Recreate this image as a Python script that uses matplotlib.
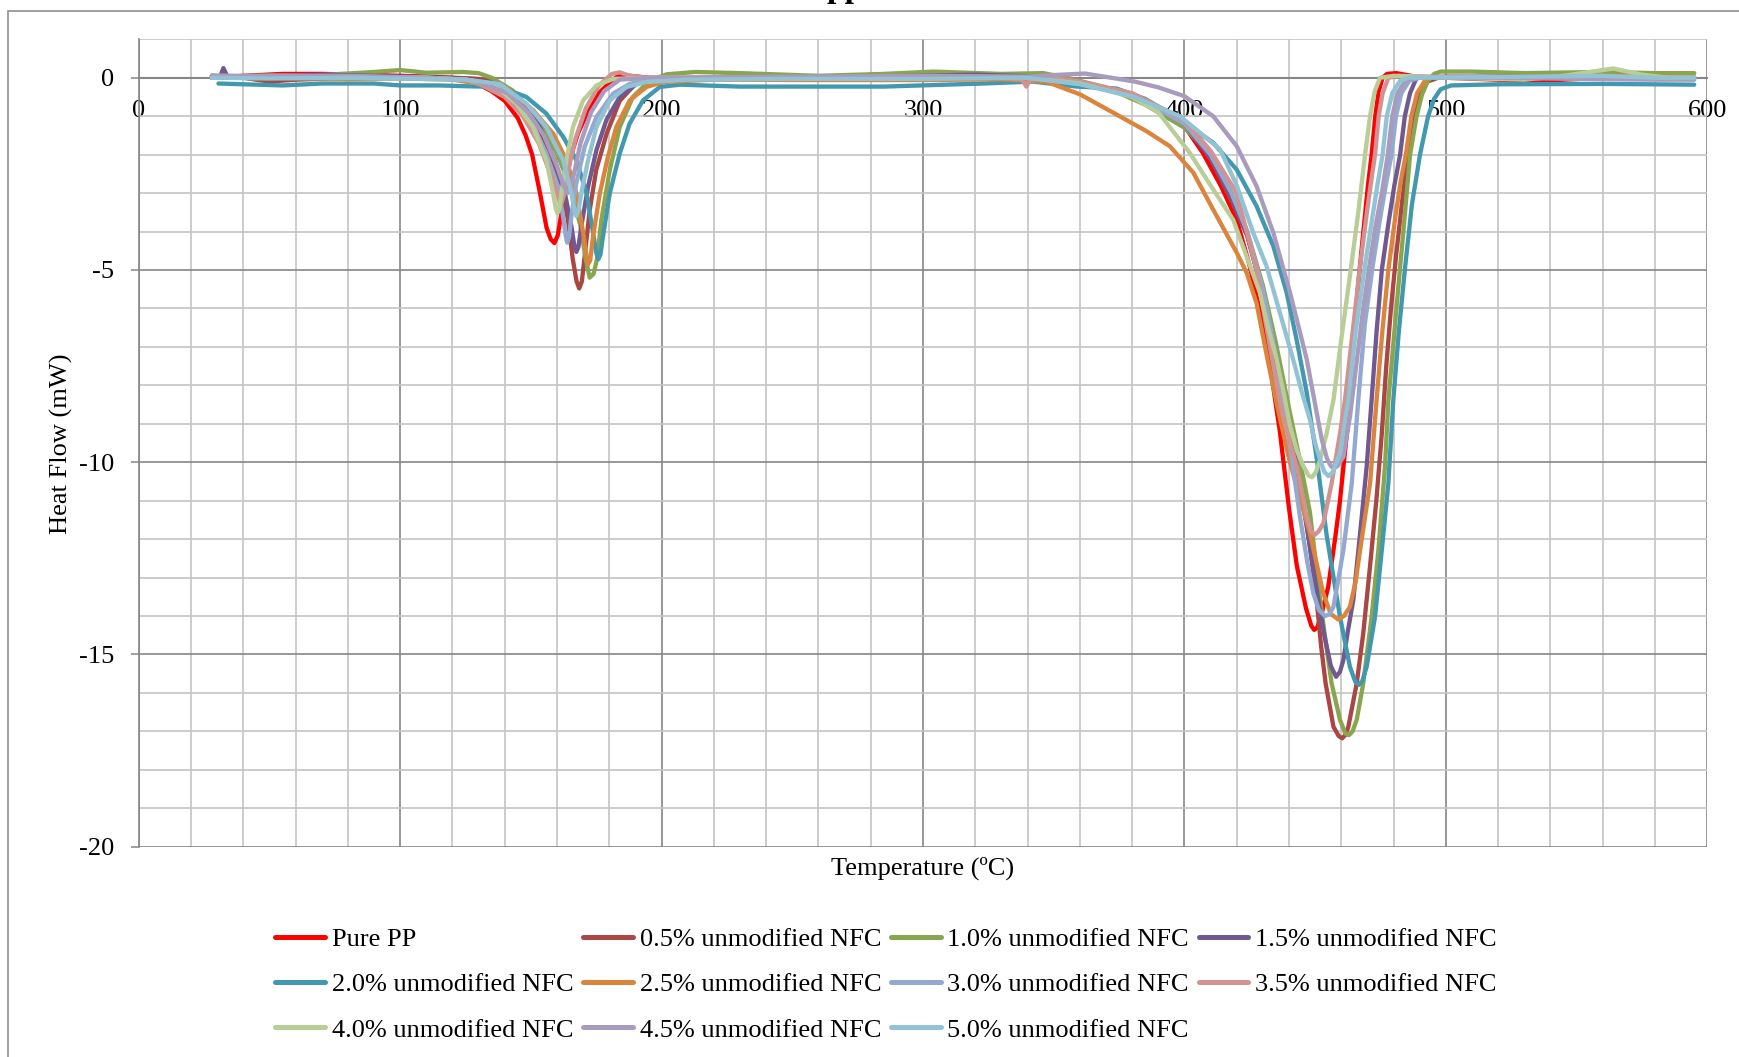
import matplotlib
matplotlib.use('Agg')
import matplotlib.pyplot as plt
from matplotlib.patches import Rectangle

plt.rcParams['font.family'] = ['Liberation Serif', 'DejaVu Serif']

# ---------------- data ----------------
series_names = ["Pure PP", "0.5% unmodified NFC", "1.0% unmodified NFC", "1.5% unmodified NFC",
                "2.0% unmodified NFC", "2.5% unmodified NFC", "3.0% unmodified NFC",
                "3.5% unmodified NFC", "4.0% unmodified NFC", "4.5% unmodified NFC",
                "5.0% unmodified NFC"]
series_colors = ["#FF0000", "#AA4643", "#89A54E", "#71588F", "#4198AF", "#DB843D",
                 "#93A9CF", "#D19392", "#B9CD96", "#A99BBD", "#91C3D5"]

t_pure = [28, 40, 55, 70, 90, 110, 120, 128, 135, 140, 145, 148, 150.5, 153.5, 156, 157.6, 159, 160.3,
          161.5, 163, 165, 168, 171, 176, 181, 184, 188, 195, 230, 270, 310, 345, 360, 380, 392, 400,
          407, 414, 420, 425, 429, 433, 436.5, 440, 443, 446.5, 448.5, 449.6, 450.8, 452.5, 455, 457.6,
          459.5, 462.2, 464.3, 466.3, 468.3, 470.2, 471.6, 473, 474.3, 475.8, 477.5, 481, 486, 490, 500,
          520, 533, 545, 560, 580, 595]
hf_pure = [0.0, 0.05, 0.1, 0.1, 0.07, 0.03, 0.0, -0.1, -0.35, -0.6, -1.05, -1.5, -2.0, -3.0, -3.9, -4.2,
           -4.3, -4.1, -3.6, -3.0, -2.1, -1.45, -1.0, -0.4, -0.07, 0.08, 0.05, 0.0, -0.03, -0.03, 0.0, 0.0,
           -0.13, -0.48, -0.82, -1.26, -1.95, -2.82, -3.7, -4.9, -6.1, -7.6, -9.2, -11.2, -12.7, -13.8,
           -14.25, -14.36, -14.3, -13.93, -13.24, -12.0, -11.0, -9.2, -7.2, -5.5, -4.1, -2.8, -2.0, -1.0,
           -0.35, 0.0, 0.1, 0.12, 0.06, 0.0, 0.0, -0.05, -0.1, -0.05, 0.0, 0.0, 0.0]

t_05 = [28, 40, 50, 60, 80, 100, 120, 128, 135.5, 143, 151, 157, 161.7, 164.2, 166, 167.5, 168.5, 169.5,
        170.5, 172.5, 175, 179, 184, 190, 197, 220, 280, 320, 350, 360, 380, 400, 410, 418, 424, 430,
        434, 438, 442, 445, 448, 450.6, 452.3, 454, 457, 459, 460.3, 461.5, 462.7, 465.9, 468.4, 471,
        473.4, 475.5, 477.2, 479, 481, 483.3, 485.5, 487.8, 490, 493, 497, 530, 560, 595]
hf_05 = [0.05, 0.0, -0.1, -0.05, 0.0, 0.0, 0.0, -0.02, -0.07, -0.4, -1.0, -1.9, -2.8, -3.7, -4.7, -5.3,
         -5.48, -5.3, -4.7, -3.45, -2.4, -1.45, -0.6, -0.16, -0.03, 0.0, 0.0, 0.05, 0.0, -0.1, -0.45,
         -1.2, -2.1, -3.2, -4.1, -5.6, -7.0, -8.4, -9.8, -10.8, -12.2, -13.6, -14.8, -15.75, -16.88,
         -17.12, -17.18, -17.1, -16.88, -15.75, -14.45, -12.7, -11.0, -9.25, -7.5, -6.0, -4.6, -3.2,
         -2.0, -1.0, -0.4, -0.1, 0.0, 0.0, 0.0, 0.0]

t_10 = [28, 45, 70, 90, 100, 110, 124, 130, 135, 143, 152, 160, 165, 169, 171, 172.5, 174, 175.3, 177,
        180.2, 184, 189, 195.5, 202, 213, 230, 260, 285, 304, 330, 346, 355, 370, 385, 400, 410, 418,
        424, 430, 435, 440, 444, 448, 451.9, 454.5, 456.3, 459.5, 461.5, 462.9, 464.3, 465.9, 468.4,
        471.6, 474.2, 476.7, 478, 480, 482, 484, 486.3, 488.8, 490.8, 493, 495.5, 498, 510, 530, 560,
        580, 595]
hf_10 = [0.0, 0.05, 0.07, 0.15, 0.2, 0.13, 0.15, 0.12, 0.0, -0.33, -1.02, -1.97, -2.83, -3.86, -4.72,
         -5.2, -5.1, -4.72, -3.69, -2.4, -1.28, -0.5, -0.07, 0.09, 0.15, 0.12, 0.05, 0.1, 0.16, 0.1, 0.12,
         0.0, -0.25, -0.7, -1.3, -2.0, -3.0, -4.0, -5.4, -6.9, -8.6, -9.9, -11.3, -13.58, -14.9, -15.75,
         -16.7, -17.05, -17.1, -17.0, -16.7, -15.75, -14.02, -12.28, -10.12, -8.4, -6.85, -5.3, -3.8,
         -2.0, -1.0, -0.45, -0.1, 0.1, 0.16, 0.16, 0.12, 0.15, 0.12, 0.12]

t_15 = [28, 31, 32.4, 34, 50, 70, 90, 110, 125, 138.1, 145.7, 153.4, 159.1, 163, 165.5, 166.7, 167.4,
        168.2, 169.3, 171.9, 175.1, 178.9, 184, 190.4, 198, 230, 280, 320, 345, 360, 380, 400, 410, 418,
        424, 430, 435, 440, 444, 448, 451, 453.5, 456, 458, 459.5, 460.8, 462.5, 464.6, 467.2, 469.7,
        471.6, 473.5, 475.5, 478, 480.3, 482.5, 484.3, 486.3, 488.8, 500, 530, 560, 595]
hf_15 = [0.05, 0.0, 0.25, 0.02, 0.05, 0.08, 0.05, 0.02, -0.03, -0.16, -0.59, -1.28, -2.14, -3.0, -3.86,
         -4.4, -4.53, -4.4, -3.86, -2.83, -1.88, -1.1, -0.5, -0.16, -0.03, 0.0, 0.03, 0.08, 0.03, -0.1,
         -0.45, -1.2, -2.1, -3.1, -4.1, -5.6, -7.2, -9.0, -10.5, -12.2, -13.5, -14.5, -15.3, -15.58,
         -15.45, -15.14, -14.4, -13.58, -11.85, -10.12, -8.38, -6.6, -5.0, -3.8, -2.8, -2.0, -1.0, -0.4,
         0.0, 0.03, 0.03, 0.02, 0.0]

t_20 = [30.5, 40, 55, 70, 90, 100, 115, 125, 138.1, 148.3, 155.9, 162.3, 167.4, 171.3, 173.8, 175, 175.8,
        176.6, 177.6, 180.2, 184, 187.8, 192.9, 199.3, 207, 230, 260, 285, 323, 342, 359, 374, 385, 398.3,
        411, 420, 427.6, 434, 439.1, 442.9, 446.8, 450.6, 454.4, 459.5, 463.3, 465.3, 466.7, 468, 469.7,
        472.9, 475.5, 478, 479.9, 482, 484.3, 487, 490.1, 493.2, 495.5, 498, 502, 520, 560, 595]
hf_20 = [-0.15, -0.17, -0.2, -0.15, -0.15, -0.2, -0.2, -0.22, -0.24, -0.5, -0.93, -1.53, -2.14, -3.0,
         -4.03, -4.55, -4.72, -4.6, -4.12, -3.0, -1.97, -1.19, -0.59, -0.24, -0.18, -0.23, -0.23, -0.23,
         -0.15, -0.1, -0.23, -0.28, -0.55, -1.08, -1.69, -2.39, -3.34, -4.38, -5.59, -6.81, -8.2, -9.9,
         -11.9, -14.02, -15.32, -15.7, -15.79, -15.7, -15.32, -14.02, -12.28, -10.55, -8.38, -6.6, -5.0,
         -3.3, -2.0, -1.0, -0.55, -0.3, -0.2, -0.17, -0.16, -0.18]

t_25 = [28, 50, 80, 100, 120, 130, 141.9, 150.8, 158.5, 163.6, 167.4, 170, 171.2, 171.9, 172.7, 173.8,
        176.4, 179.5, 182.7, 187.8, 194.2, 200.6, 220, 260, 300, 330, 347, 360, 372.8, 385.5, 394.4,
        403.4, 411, 420, 423.8, 427.6, 432, 436, 440, 444, 448, 453.1, 456, 458.9, 461, 463.3, 465.5,
        467.2, 471, 473.5, 475.7, 478, 480.5, 482.7, 484.7, 486.8, 489, 492.7, 520, 560, 595]
hf_25 = [0.05, 0.0, -0.03, -0.02, -0.05, -0.15, -0.33, -0.84, -1.45, -2.14, -3.0, -4.03, -4.6, -4.85,
         -4.75, -4.12, -3.0, -2.05, -1.28, -0.59, -0.24, -0.11, -0.05, -0.06, -0.06, -0.04, -0.1, -0.43,
         -0.91, -1.39, -1.78, -2.47, -3.43, -4.55, -5.07, -5.87, -7.4, -8.7, -9.9, -10.9, -11.85, -13.41,
         -13.95, -14.09, -14.0, -13.76, -13.1, -12.28, -10.55, -8.38, -6.6, -5.0, -3.7, -2.7, -2.0, -1.0,
         -0.4, 0.0, 0.02, 0.05, 0.02]

t_30 = [28, 50, 80, 110, 125, 132, 141.9, 149.6, 155.9, 160.4, 162.3, 163.3, 163.9, 164.6, 165.5, 167.4,
        170.6, 175.1, 181.5, 187.8, 195, 230, 300, 345, 360, 380, 400, 410, 418, 424, 430, 435, 440,
        444.2, 447, 449.3, 451.5, 453.8, 455.5, 457, 459, 460.8, 464, 466.5, 469, 472, 474.5, 477, 479.2,
        480.9, 483, 486, 490, 530, 560, 595]
hf_30 = [0.0, 0.05, 0.03, 0.0, -0.05, -0.2, -0.5, -1.1, -1.97, -2.83, -3.6, -4.1, -4.29, -4.15, -3.6,
         -2.74, -1.79, -1.02, -0.41, -0.16, -0.05, 0.0, 0.02, 0.0, -0.1, -0.45, -1.2, -2.0, -3.0, -4.0,
         -5.5, -7.2, -9.4, -11.42, -12.6, -13.41, -13.85, -14.0, -13.95, -13.76, -13.0, -12.28, -10.55,
         -8.38, -6.4, -4.9, -3.8, -2.8, -2.0, -1.0, -0.4, -0.08, 0.0, 0.02, 0.0, 0.0]

t_35 = [28, 50, 80, 110, 125, 130, 140, 147, 153, 158, 160.5, 161.5, 162.5, 164, 167, 171, 176, 181,
        184, 188, 195, 240, 300, 330, 338, 339.5, 341, 350, 360, 380, 400, 410, 420, 427.6, 432.7, 437,
        440, 443, 446.8, 448.5, 449.9, 451.3, 453.1, 456.3, 459.5, 461.4, 464.2, 467, 469.6, 471.4,
        472.9, 474.3, 475.8, 478, 482, 500, 540, 570, 595]
hf_35 = [0.05, 0.03, 0.0, 0.0, -0.05, -0.15, -0.5, -1.0, -1.7, -2.6, -3.1, -3.3, -3.1, -2.5, -1.6, -0.8,
         -0.2, 0.1, 0.14, 0.05, 0.0, 0.0, 0.0, 0.0, -0.05, -0.23, -0.05, 0.0, -0.1, -0.4, -1.1, -1.9, -3.0,
         -5.0, -7.0, -8.6, -9.4, -10.12, -11.42, -11.8, -11.89, -11.8, -11.59, -10.55, -9.25, -8.38, -6.7,
         -5.0, -3.6, -2.7, -2.0, -1.0, -0.4, 0.0, 0.05, 0.02, 0.0, 0.0, 0.0]

t_40 = [28, 50, 80, 110, 125, 135.5, 144.5, 150.8, 155.9, 158.5, 159.5, 160.2, 161, 161.7, 163.6, 166.1,
        170, 175.1, 181.5, 200, 250, 300, 340, 360, 380, 390, 402, 410, 418.7, 423, 428.9, 432, 435.3,
        438, 440.4, 443, 445.5, 447.5, 448.8, 450.3, 451.9, 454.4, 457, 460, 463.6, 466.5, 469.1, 471,
        472.8, 474.8, 480, 500, 530, 545, 564, 575, 585, 595]
hf_40 = [0.05, 0.03, 0.0, 0.0, -0.05, -0.16, -0.67, -1.28, -2.14, -3.0, -3.4, -3.52, -3.4, -3.0, -2.14,
         -1.28, -0.59, -0.2, -0.03, 0.0, 0.0, 0.03, 0.0, -0.15, -0.5, -0.9, -1.95, -2.8, -3.7, -4.5, -5.6,
         -6.5, -7.33, -8.2, -9.06, -9.7, -10.1, -10.35, -10.39, -10.25, -9.94, -9.25, -8.38, -6.8, -5.0,
         -3.5, -2.0, -1.0, -0.35, 0.0, 0.05, 0.0, -0.05, 0.05, 0.24, 0.08, 0.0, 0.0]

t_45 = [28, 50, 80, 110, 125, 130, 141, 149, 155, 160, 162.5, 164, 165.3, 166.5, 169, 173, 178, 184, 195,
        250, 300, 340, 350, 362, 372, 381, 390, 400, 411, 420, 427.6, 434, 440.4, 446.8, 450, 452.5,
        454.5, 456, 457.2, 458.5, 460.8, 463.3, 465.5, 468, 470.5, 473, 475.5, 477.8, 479.5, 481.5,
        484.5, 488, 520, 550, 580, 595]
hf_45 = [0.05, 0.05, 0.05, 0.0, -0.05, -0.1, -0.4, -0.9, -1.5, -2.3, -2.8, -3.0, -2.8, -2.5, -1.7, -0.9,
         -0.35, -0.05, 0.0, 0.03, 0.05, 0.03, 0.07, 0.11, 0.0, -0.1, -0.25, -0.48, -1.0, -1.78, -2.82,
         -4.03, -5.59, -7.33, -8.5, -9.4, -9.9, -10.1, -10.16, -10.1, -9.86, -8.82, -7.6, -6.2, -5.0,
         -3.9, -3.0, -2.0, -1.0, -0.4, -0.08, 0.0, 0.0, -0.03, -0.05, -0.05]

t_50 = [28, 50, 80, 110, 125, 138.1, 148.3, 155.9, 162.3, 165.5, 166.7, 167.4, 168.2, 169.3, 171.9,
        175.1, 180.2, 186.6, 194.2, 210, 250, 300, 340, 360, 380, 398.3, 413.6, 420, 426.3, 431.4, 436.5,
        441.6, 445, 448, 450, 451.9, 453.5, 455.1, 456.8, 459.5, 462.7, 465.5, 468.8, 471.5, 473.8,
        475.8, 477.4, 479.5, 482.5, 486, 520, 560, 580, 595]
hf_50 = [0.0, -0.02, 0.0, -0.03, -0.05, -0.16, -0.67, -1.28, -2.14, -3.0, -3.45, -3.6, -3.45, -3.0,
         -2.14, -1.28, -0.59, -0.24, -0.11, -0.05, -0.03, -0.03, 0.0, -0.17, -0.48, -1.0, -1.86, -2.8,
         -4.03, -4.9, -6.11, -7.33, -8.2, -8.89, -9.5, -9.93, -10.25, -10.36, -10.25, -9.77, -8.38, -6.6,
         -5.0, -3.8, -2.8, -2.0, -1.0, -0.4, -0.08, 0.0, 0.02, 0.05, 0.0, 0.0]

series_t = [t_pure, t_05, t_10, t_15, t_20, t_25, t_30, t_35, t_40, t_45, t_50]
series_hf = [hf_pure, hf_05, hf_10, hf_15, hf_20, hf_25, hf_30, hf_35, hf_40, hf_45, hf_50]

x_major = [0, 100, 200, 300, 400, 500, 600]
y_major = [0, -5, -10, -15, -20]
y_labels = ["0", "-5", "-10", "-15", "-20"]

# ---------------- figure ----------------
W, H = 1740, 1057
fig = plt.figure(figsize=(W / 100, H / 100), dpi=100)
fig.patch.set_facecolor('white')

# outer chart border (partly cropped, as in the reference)
fig.add_artist(Rectangle((8.3 / W, -0.2), 1.3, 1.2 - 10.7 / H, transform=fig.transFigure,
                         fill=False, edgecolor='#868686', lw=1.1))

ax = fig.add_axes([138.7 / W, 1 - 846.7 / H, (1707.3 - 138.7) / W, (846.7 - 39.3) / H])
ax.set_xlim(0, 600)
ax.set_ylim(-20, 1)

FS = 19
MAJ = '#868686'
MIN = '#c4c4c4'

ax.set_xticks(x_major)
ax.set_xticks(range(0, 601, 20), minor=True)
ax.set_yticks(y_major)
ax.set_yticklabels(y_labels)
ax.set_yticks(range(-20, 2), minor=True)
ax.grid(which='minor', color=MIN, lw=1.2, zorder=0)
ax.grid(which='major', color=MAJ, lw=1.2, zorder=0)
ax.set_axisbelow(True)

for side in ['top', 'right']:
    ax.spines[side].set_visible(False)
ax.spines['left'].set_color(MAJ)
ax.spines['left'].set_linewidth(1.2)
ax.spines['bottom'].set_position(('data', 0))
ax.spines['bottom'].set_color(MAJ)
ax.spines['bottom'].set_linewidth(1.5)

ax.tick_params(axis='x', which='both', length=0, pad=16.2, labelsize=FS)
ax.tick_params(axis='y', which='major', length=5.8, width=1.1, color=MAJ, direction='out',
               pad=11.8, labelsize=FS)
ax.tick_params(axis='y', which='minor', length=0)
ax.set_xticklabels([str(v) for v in x_major])

lines = []
for t, hf, name, col in zip(series_t, series_hf, series_names, series_colors):
    ln, = ax.plot(t, hf, color=col, lw=3.1, label=name, solid_joinstyle='round',
                  solid_capstyle='round', zorder=3)
    lines.append(ln)

fig.text(923 / W, 1 - 868 / H, 'Temperature (ºC)', ha='center', va='center', fontsize=FS)
fig.text(61.7 / W, 1 - 444 / H, 'Heat Flow (mW)', ha='center', va='center', rotation=90, fontsize=FS)
fig.text(845 / W, 1 + 2.5 / H, 'pp', ha='center', va='baseline', fontsize=24, fontweight='bold')

order = [0, 4, 8, 1, 5, 9, 2, 6, 10, 3, 7]
leg = fig.legend([lines[i] for i in order], [series_names[i] for i in order],
                 loc='upper left', bbox_to_anchor=(275 / W, 1 - 927.3 / H), ncol=4,
                 frameon=False, fontsize=FS, handlelength=1.89, handletextpad=0.26,
                 columnspacing=0.36, labelspacing=0.83, borderpad=0, borderaxespad=0)
for h in leg.get_lines():
    h.set_linewidth(3.6)

fig.savefig('out.png', dpi=100)
